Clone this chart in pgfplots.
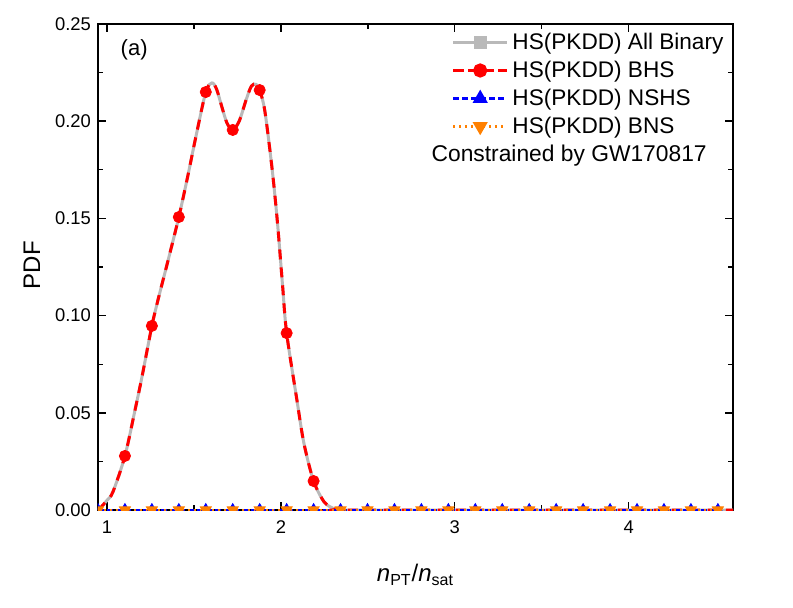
\documentclass[border=0pt]{standalone}
\usepackage{fontspec}
\setmainfont{Liberation Sans}
\usepackage{pgfplots}
\pgfplotsset{compat=1.18}
\definecolor{allgray}{RGB}{185,185,185}
\definecolor{bhsred}{RGB}{255,0,0}
\definecolor{nsblue}{RGB}{0,0,255}
\definecolor{bnsorange}{RGB}{255,128,0}

% density curve shared by All Binary and BHS
\pgfplotstableread{
x y
0.948 0
0.966 0.0015
1.000 0.005
1.034 0.0093
1.103 0.0278
1.161 0.0514
1.200 0.068
1.258 0.0947
1.293 0.108
1.350 0.128
1.413 0.1507
1.465 0.172
1.511 0.192
1.568 0.2150
1.603 0.2197
1.630 0.2165
1.660 0.2075
1.690 0.1990
1.723 0.1955
1.760 0.2000
1.800 0.2110
1.830 0.2180
1.856 0.2190
1.878 0.2160
1.908 0.2050
1.950 0.1750
1.980 0.1480
2.010 0.1150
2.033 0.0910
2.092 0.0566
2.132 0.0345
2.188 0.0149
2.250 0.0040
2.310 0.0005
2.350 0
3.000 0
4.600 0
}\curve

% marker positions on the curve (every 0.155)
\pgfplotstableread{
x y
1.103 0.0278
1.258 0.0947
1.413 0.1507
1.568 0.2150
1.723 0.1955
1.878 0.2160
2.033 0.0910
2.188 0.0149
}\marks

\pgfplotstableread{
x y
0.948 0
1.103 0
1.258 0
1.413 0
1.568 0
1.723 0
1.878 0
2.033 0
2.188 0
2.343 0
2.498 0
2.653 0
2.808 0
2.963 0
3.118 0
3.273 0
3.428 0
3.583 0
3.738 0
3.893 0
4.048 0
4.203 0
4.358 0
4.513 0
}\zeros

\begin{document}
\begin{tikzpicture}
\begin{axis}[
  scale only axis,
  width=317.5pt, height=243pt,
  xmin=0.948, xmax=4.6,
  ymin=0, ymax=0.25,
  xtick={1,2,3,4},
  ytick={0,0.05,0.10,0.15,0.20,0.25},
  minor x tick num=1,
  minor y tick num=1,
  tick align=inside,
  major tick length=4pt,
  minor tick length=2.5pt,
  clip marker paths=true,
  axis line style={line width=0.7pt},
  every tick/.style={black,line width=0.7pt},
  yticklabel style={/pgf/number format/.cd,fixed,fixed zerofill,precision=2},
  /pgf/number format/assume math mode=true,
  tick label style={font=\fontsize{9.2}{11}\selectfont},
  xticklabel style={yshift=-2pt},
  scaled y ticks=false,
  xlabel={\textit{n}\textsubscript{PT}/\textit{n}\textsubscript{sat}},
  ylabel={PDF},
  label style={font=\fontsize{12}{14}\selectfont},
  xlabel style={at={(axis description cs:0.5,-0.134)},anchor=center},
  ylabel style={at={(axis description cs:-0.104,0.504)},anchor=center,rotate=0},
  legend style={draw=none,fill=none,at={(rel axis cs:0.995,0.995)},anchor=north east,
    font=\fontsize{11.3}{13}\selectfont,row sep=0.3pt,inner sep=1pt},
  legend cell align=left,
  legend image code/.code={\draw[mark repeat=2,mark phase=2]
    plot coordinates {(0cm,0cm) (0.47cm,0cm) (0.94cm,0cm)};},
]
% line parts
\addplot[allgray,line width=1.5pt,smooth,forget plot] table {\curve};
\addplot[bhsred,line width=1.5pt,smooth,dash pattern=on 5pt off 4pt,forget plot] table {\curve};
\addplot[nsblue,line width=1.2pt,dash pattern=on 3pt off 1.5pt,forget plot] table {\zeros};
\addplot[bnsorange,line width=1.2pt,dash pattern=on 1pt off 2pt,forget plot] table {\zeros};
% markers
\addplot[only marks,mark=*,mark size=2.8pt,bhsred,forget plot] table {\marks};
\addplot[only marks,mark=triangle*,mark size=3.2pt,nsblue,forget plot] table {\zeros};
\addplot[only marks,mark=triangle*,mark size=3.2pt,bnsorange,mark options={rotate=180},forget plot] table {\zeros};

\addlegendimage{allgray,line width=1.5pt,mark=square*,mark size=2.5pt}
\addlegendentry{HS(PKDD) All Binary}
\addlegendimage{bhsred,line width=1.5pt,dash pattern=on 5.5pt off 2pt,mark=*,mark size=2.8pt,mark options={solid}}
\addlegendentry{HS(PKDD) BHS}
\addlegendimage{nsblue,line width=1.2pt,dash pattern=on 3pt off 1.5pt,mark=triangle*,mark size=3.2pt,mark options={solid}}
\addlegendentry{HS(PKDD) NSHS}
\addlegendimage{bnsorange,line width=1.2pt,dash pattern=on 1pt off 2pt,mark=triangle*,mark size=3.2pt,mark options={solid,rotate=180}}
\addlegendentry{HS(PKDD) BNS}

\node[anchor=center,font=\fontsize{11.4}{13}\selectfont] at (rel axis cs:0.742,0.730) {Constrained by GW170817};
\node[anchor=center,font=\fontsize{11}{13}\selectfont] at (rel axis cs:0.057,0.946) {(a)};
\coordinate (bl) at (rel axis cs:-0.1543,-0.1996);
\coordinate (tr) at (rel axis cs:1.0945,1.0494);
\end{axis}
\path (bl) rectangle (tr);
\end{tikzpicture}
\end{document}
